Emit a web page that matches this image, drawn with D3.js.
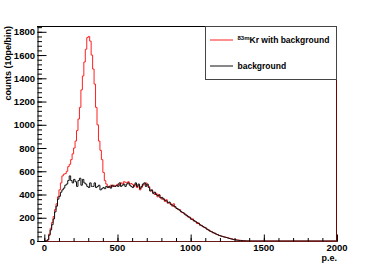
<!DOCTYPE html>
<html>
<head>
<meta charset="utf-8">
<script src="https://cdn.jsdelivr.net/npm/d3@7"></script>
<style>
  body { margin: 0; background: #fff; }
  text { font-family: "Liberation Sans", Arial, sans-serif; font-weight: bold; }
</style>
</head>
<body>
<div id="chart"></div>
<script>
// histogram contents, 10 p.e. bins starting at 0
var binWidth = 10;
var krWithBg = [0, 0, 10, 60, 110, 160, 210, 270, 320, 380,
  440, 500, 560, 575, 580, 600, 640, 660, 700, 750,
  800, 860, 950, 1050, 1150, 1300, 1420, 1540, 1650, 1750,
  1760, 1720, 1600, 1480, 1350, 1150, 1000, 860, 780, 700,
  590, 520, 490, 470, 460, 480, 470, 480, 470, 480,
  490, 480, 500, 490, 510, 505, 500, 510, 490, 495,
  485, 470, 490, 460, 480, 440, 460, 480, 490, 500,
  480, 470, 440, 430, 420, 400, 410, 380, 400, 375,
  360, 365, 340, 355, 325, 330, 320, 300, 320, 290,
  280, 270, 270, 250, 245, 235, 230, 215, 205, 205,
  185, 190, 170, 168, 150, 155, 135, 135, 122, 115,
  112, 98, 95, 82, 80, 70, 68, 58, 56, 47,
  45, 40, 37, 34, 31, 27, 24, 20, 18, 14,
  12, 9, 8, 6, 5, 4, 3, 2, 1, 1];
var background = [0, 0, 10, 50, 95, 140, 190, 250, 300, 360,
  385, 420, 440, 455, 480, 490, 520, 560, 520, 500,
  530, 510, 470, 520, 540, 480, 530, 500, 490, 470,
  460, 500, 470, 470, 500, 460, 470, 480, 440, 450,
  460, 450, 470, 460, 470, 455, 480, 470, 470, 480,
  470, 500, 470, 480, 490, 470, 490, 500, 480, 470,
  460, 480, 500, 470, 490, 450, 470, 490, 500, 470,
  490, 460, 430, 440, 410, 420, 400, 390, 395, 370,
  375, 360, 350, 345, 330, 335, 315, 310, 300, 295,
  280, 275, 265, 255, 245, 240, 225, 220, 210, 200,
  190, 182, 175, 165, 158, 150, 140, 132, 125, 118,
  110, 100, 92, 85, 78, 72, 66, 60, 54, 48,
  44, 40, 36, 33, 30, 26, 22, 19, 15, 12,
  10, 8, 6, 5, 4, 3, 2, 1, 1, 0];
var xTicks = [0, 500, 1000, 1500, 2000];
var yTicks = [0, 200, 400, 600, 800, 1000, 1200, 1400, 1600, 1800];

var w = 374, h = 268;
var padL = 37, padR = 337, padT = 26, padB = 241;

var x = d3.scaleLinear().domain([-50, 2000]).range([padL, padR]);
var y = d3.scaleLinear().domain([0, 1850]).range([padB, padT]);

var svg = d3.select("#chart").append("svg")
  .attr("width", w).attr("height", h);

// turn bin contents into step points
function steps(vals) {
  var pts = [[0, 0]];
  vals.forEach(function (v, i) { pts.push([i * binWidth, v]); });
  pts.push([vals.length * binWidth, 0]);
  pts.push([2000, 0]);
  return pts;
}
var line = d3.line()
  .x(function (d) { return x(d[0]); })
  .y(function (d) { return y(d[1]); })
  .curve(d3.curveStepAfter);

svg.append("path").datum(steps(krWithBg))
  .attr("fill", "none").attr("stroke", "#ff2020").attr("stroke-width", 1)
  .attr("d", line);
svg.append("path").datum(steps(background))
  .attr("fill", "none").attr("stroke", "#111").attr("stroke-width", 1)
  .attr("d", line);

// frame
svg.append("line").attr("x1", padL).attr("x2", padR).attr("y1", padT + 0.5).attr("y2", padT + 0.5)
  .attr("stroke", "#000");
svg.append("line").attr("x1", padR - 0.5).attr("x2", padR - 0.5).attr("y1", padT).attr("y2", padB)
  .attr("stroke", "#7a0000");
svg.append("line").attr("x1", padL).attr("x2", padR).attr("y1", padB + 0.5).attr("y2", padB + 0.5)
  .attr("stroke", "#6b1a1a");

// x axis, ticks inside
var xAxis = d3.axisTop(x).tickValues(xTicks).tickSizeInner(7).tickSizeOuter(0).tickFormat("");
svg.append("g").attr("transform", "translate(0," + (padB + 0.5) + ")").call(xAxis)
  .call(function (g) { g.select(".domain").remove(); });
var xMinor = d3.axisTop(x).tickValues(d3.range(0, 2001, 100)).tickSize(3.5).tickFormat("");
svg.append("g").attr("transform", "translate(0," + (padB + 0.5) + ")").call(xMinor)
  .call(function (g) { g.select(".domain").remove(); });
svg.append("g").selectAll("text").data(xTicks).join("text")
  .attr("x", function (d) { return x(d); })
  .attr("y", padB + 9.5)
  .attr("text-anchor", "middle")
  .attr("font-size", "9.5px")
  .text(function (d) { return d; });
svg.append("text").attr("x", padR).attr("y", 261).attr("text-anchor", "end")
  .attr("font-size", "9px").text("p.e.");

// y axis, ticks inside
var yAxis = d3.axisRight(y).tickValues(yTicks).tickSize(9).tickSizeOuter(0).tickFormat("");
svg.append("g").attr("transform", "translate(" + (padL + 0.5) + ",0)").call(yAxis);
var yMinor = d3.axisRight(y).tickValues(d3.range(0, 1850, 40)).tickSize(4.5).tickFormat("");
svg.append("g").attr("transform", "translate(" + (padL + 0.5) + ",0)").call(yMinor)
  .call(function (g) { g.select(".domain").remove(); });
svg.append("g").selectAll("text").data(yTicks).join("text")
  .attr("x", padL - 2)
  .attr("y", function (d) { return y(d) + 3.5; })
  .attr("text-anchor", "end")
  .attr("font-size", "9.5px")
  .text(function (d) { return d; });
svg.append("text")
  .attr("transform", "translate(11," + padT + ") rotate(-90)")
  .attr("text-anchor", "end")
  .attr("font-size", "9px")
  .text("counts (10pe/bin)");

// legend
var lg = svg.append("g");
lg.append("rect").attr("x", 205.5).attr("y", 26.5).attr("width", 131).attr("height", 53)
  .attr("fill", "#fff").attr("stroke", "#444").attr("stroke-width", 1);
lg.append("line").attr("x1", 210).attr("x2", 233).attr("y1", 40).attr("y2", 40)
  .attr("stroke", "#ff2020");
var t1 = lg.append("text").attr("x", 237.5).attr("y", 43).attr("font-size", "8.5px");
t1.append("tspan").attr("font-size", "6px").attr("dy", -3).text("83m");
t1.append("tspan").attr("dy", 3).text("Kr with background");
lg.append("line").attr("x1", 210).attr("x2", 233).attr("y1", 66).attr("y2", 66)
  .attr("stroke", "#111");
lg.append("text").attr("x", 237.5).attr("y", 69).attr("font-size", "8.5px").text("background");

svg.selectAll(".tick line").attr("stroke", "#000");
</script>
</body>
</html>
